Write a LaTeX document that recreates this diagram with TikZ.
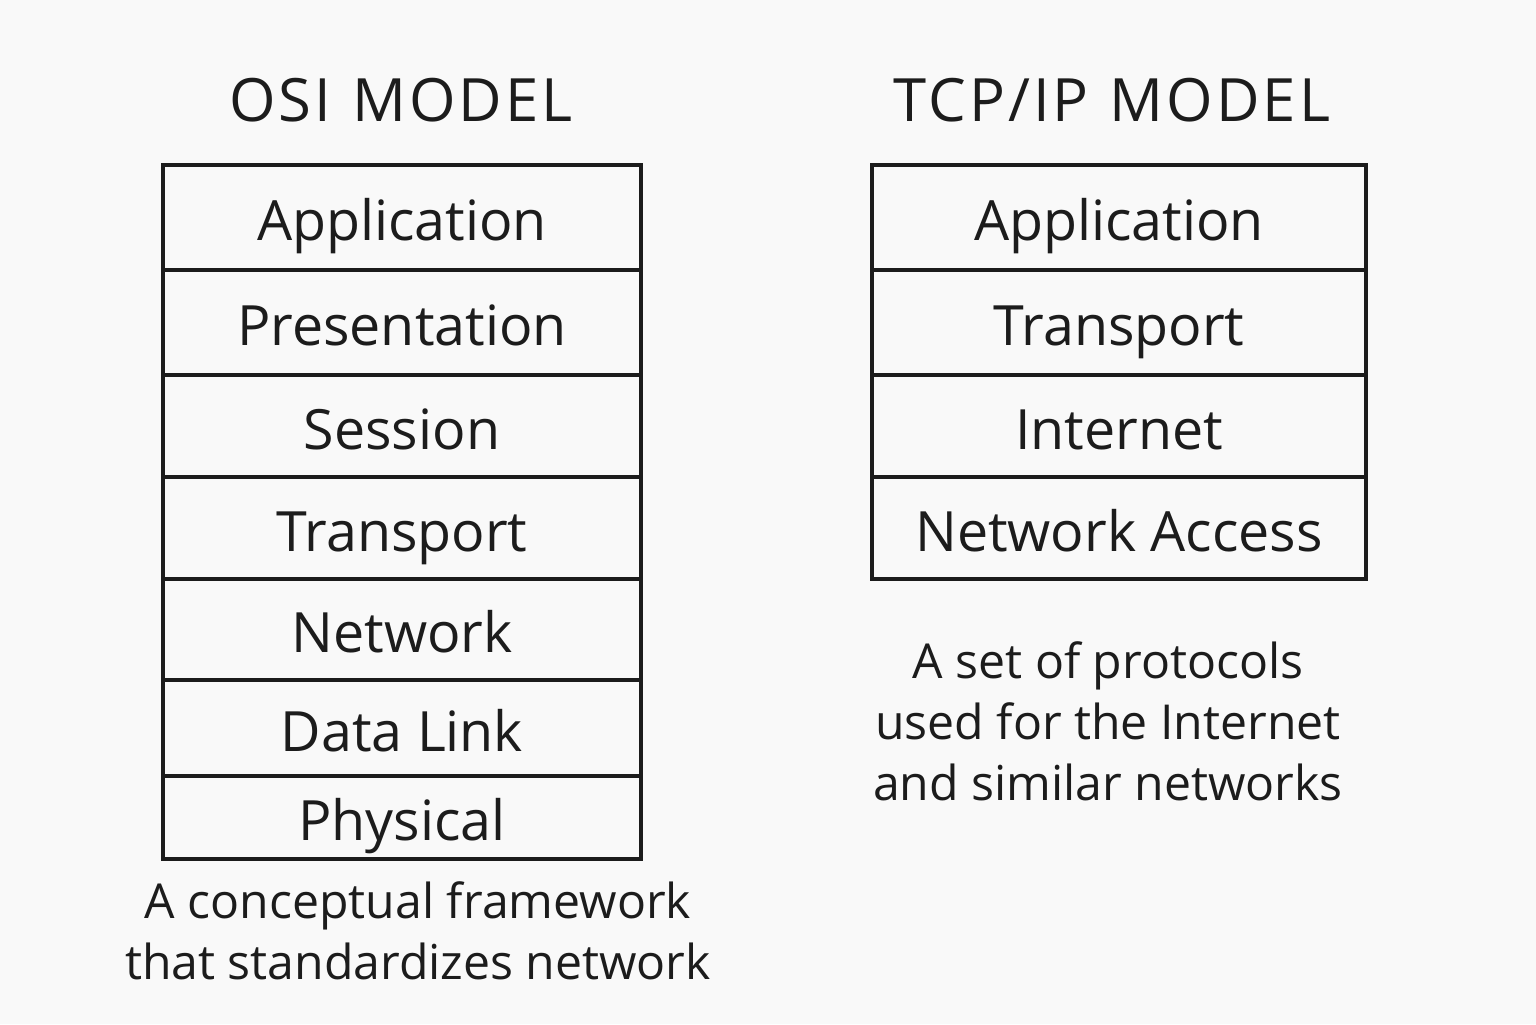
\documentclass[tikz,border=0pt]{standalone}
\usepackage{fontspec}
\setmainfont{Open Sans}
\usepackage{xcolor}
\usepackage{tikz}
\usetikzlibrary{positioning}
\definecolor{pagebg}{RGB}{249, 249, 249}
\definecolor{inktext}{RGB}{28, 28, 28}

\begin{document}
\begin{tikzpicture}[
    layerbox/.style={draw=inktext, line width=1pt, text=inktext, inner sep=0pt,
                     text height=0.55cm, text depth=0.09cm,
                     font=\fontsize{15.8}{19}\selectfont},
    osilayer/.style={layerbox, minimum width=4.78cm},
    tcplayer/.style={layerbox, minimum width=4.94cm},
    modeltitle/.style={text=inktext, font=\fontsize{17}{21}\selectfont\addfontfeature{LetterSpace=5}},
    modelnote/.style={text=inktext, align=center, inner sep=0pt,
                      font=\fontsize{13.7}{17.4}\selectfont}
]
    \fill[pagebg] (0,0) rectangle (15.36,10.24);
    \useasboundingbox (0,0) rectangle (15.36,10.24);

    % OSI stack
    \node[modeltitle] (osititle) at (4.01,9.24) {OSI\hspace{0.35em}MODEL};
    \node[osilayer, minimum height=1.05cm] (osiapp)  at (4.02,8.065) {Application};
    \node[osilayer, minimum height=1.05cm] (osipres) at (4.02,7.015) {Presentation};
    \node[osilayer, minimum height=1.02cm] (osisess) at (4.02,5.98) {Session};
    \node[osilayer, minimum height=1.02cm] (ositran) at (4.02,4.96) {Transport};
    \node[osilayer, minimum height=1.01cm] (osinet)  at (4.02,3.945) {Network};
    \node[osilayer, minimum height=0.96cm] (osilink) at (4.02,2.96) {Data Link};
    \node[osilayer, minimum height=0.83cm] (osiphys) at (4.02,2.065) {Physical};
    \node[modelnote, below=0.2cm of osiphys.south, xshift=0.16cm] (osinote)
        {A conceptual framework\\that standardizes network};

    % TCP/IP stack
    \node[modeltitle] (tcptitle) at (11.12,9.24) {TCP/IP\hspace{0.35em}MODEL};
    \node[tcplayer, minimum height=1.05cm] (tcpapp)  at (11.19,8.065) {Application};
    \node[tcplayer, minimum height=1.05cm] (tcptran) at (11.19,7.015) {Transport};
    \node[tcplayer, minimum height=1.02cm] (tcpinet) at (11.19,5.98) {Internet};
    \node[tcplayer, minimum height=1.02cm] (tcpacc)  at (11.19,4.96) {Network Access};
    \node[modelnote, below=0.6cm of tcpacc.south, xshift=-0.11cm] (tcpnote)
        {A set of protocols\\used for the Internet\\and similar networks};
\end{tikzpicture}
\end{document}
